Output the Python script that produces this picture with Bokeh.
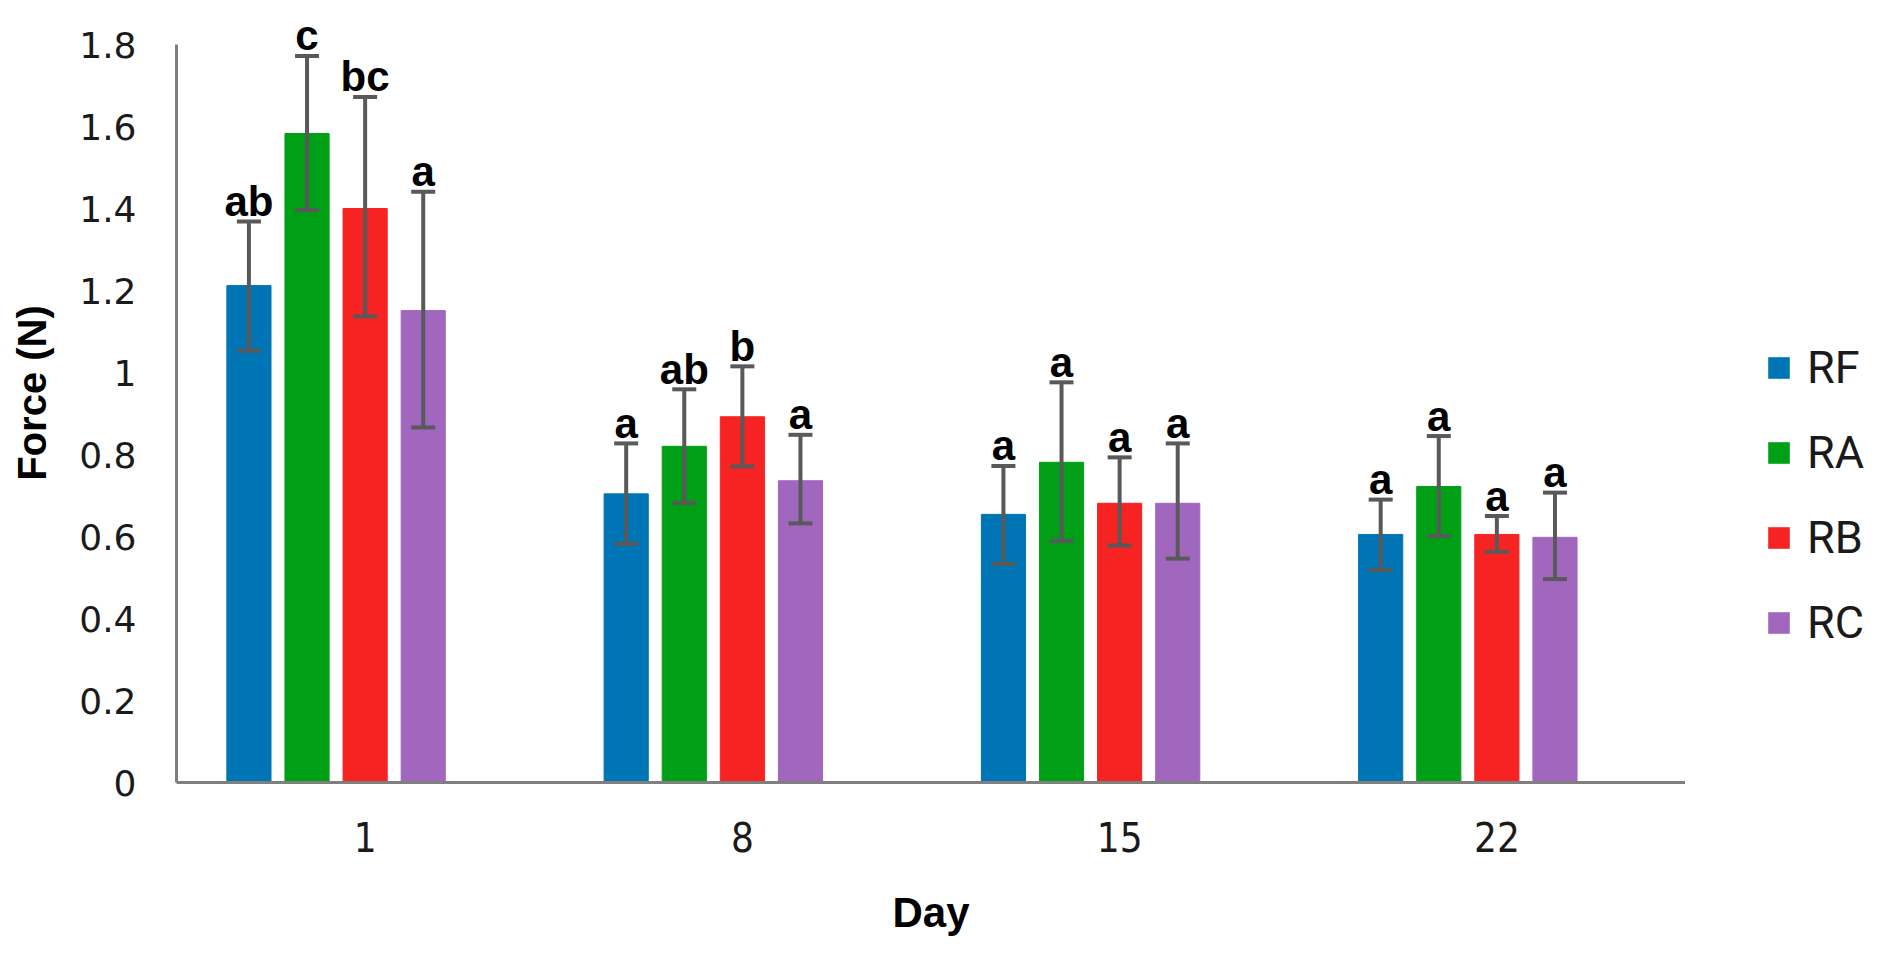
from bokeh.plotting import figure
from bokeh.layouts import row
from bokeh.models import (FactorRange, Range1d, ColumnDataSource, Whisker, TeeHead,
                          Legend, LegendItem, FixedTicker)
from bokeh.transform import dodge
from bokeh.core.properties import value
from bokeh.embed import file_html
from bokeh.resources import INLINE

# ---- data ----
days = ["1", "8", "15", "22"]
series = ["RF", "RA", "RB", "RC"]
colors = ["#0075b5", "#00a016", "#f72222", "#a167bf"]

rf_mean = [1.212, 0.704, 0.654, 0.605]
rf_lower = [1.053, 0.582, 0.533, 0.518]
rf_upper = [1.368, 0.827, 0.772, 0.690]
rf_letters = ["ab", "a", "a", "a"]

ra_mean = [1.583, 0.820, 0.781, 0.722]
ra_lower = [1.396, 0.682, 0.589, 0.601]
ra_upper = [1.772, 0.959, 0.976, 0.845]
ra_letters = ["c", "ab", "a", "a"]

rb_mean = [1.400, 0.892, 0.681, 0.605]
rb_lower = [1.137, 0.771, 0.578, 0.563]
rb_upper = [1.672, 1.015, 0.793, 0.650]
rb_letters = ["bc", "b", "a", "a"]

rc_mean = [1.151, 0.736, 0.681, 0.598]
rc_lower = [0.866, 0.632, 0.546, 0.496]
rc_upper = [1.441, 0.848, 0.827, 0.707]
rc_letters = ["a", "a", "a", "a"]

y_ticks = [0, 0.2, 0.4, 0.6, 0.8, 1, 1.2, 1.4, 1.6, 1.8]
y_tick_labels = ["0", "0.2", "0.4", "0.6", "0.8", "1", "1.2", "1.4", "1.6", "1.8"]

means = [rf_mean, ra_mean, rb_mean, rc_mean]
lowers = [rf_lower, ra_lower, rb_lower, rc_lower]
uppers = [rf_upper, ra_upper, rb_upper, rc_upper]
letters = [rf_letters, ra_letters, rb_letters, rc_letters]

# ---- layout / style ----
offsets = [-0.308, -0.154, 0.0, 0.154]
bar_width = 0.117
axis_color = "#7f7f7f"
err_color = "#595959"

p = figure(width=1685, height=939,
           x_range=FactorRange(*days, range_padding=0),
           y_range=Range1d(0, 1.9),
           output_backend="svg", toolbar_location=None,
           min_border_left=176, min_border_right=0,
           min_border_top=3, min_border_bottom=157)
p.outline_line_color = None
p.xgrid.grid_line_color = None
p.ygrid.grid_line_color = None
p.background_fill_color = "white"

# side figure that only carries the legend (its renderers are hidden)
lg = figure(width=192, height=939,
            x_range=FactorRange(*days, range_padding=0),
            y_range=Range1d(10, 11),
            x_axis_type=None, y_axis_type=None,
            output_backend="svg", toolbar_location=None,
            min_border=0)
lg.outline_line_color = None
lg.xgrid.grid_line_color = None
lg.ygrid.grid_line_color = None

legend_items = []
for i, name in enumerate(series):
    src = ColumnDataSource(dict(day=days, top=means[i], lower=lowers[i],
                                upper=uppers[i], label=letters[i]))
    p.vbar(x=dodge("day", offsets[i], range=p.x_range), top="top",
           width=bar_width, source=src, fill_color=colors[i],
           line_color=colors[i], line_width=1)
    w = Whisker(base=dodge("day", offsets[i], range=p.x_range),
                upper="upper", lower="lower", source=src,
                line_color=err_color, line_width=4, level="annotation",
                upper_head=TeeHead(size=24, line_color=err_color, line_width=4),
                lower_head=TeeHead(size=24, line_color=err_color, line_width=4))
    p.add_layout(w)
    p.text(x=dodge("day", offsets[i], range=p.x_range), y="upper", text="label",
           source=src, text_align="center", text_baseline="alphabetic",
           y_offset=-20, text_font=value("Liberation Sans"),
           text_font_style="bold", text_font_size="42px", text_color="black")
    lr = lg.vbar(x="day", top="top", bottom="top", width=bar_width, source=src,
                 fill_color=colors[i], line_color=None)
    lr.visible = False
    legend_items.append(LegendItem(label=name, renderers=[lr]))

# axes
for ax in (p.xaxis[0], p.yaxis[0]):
    ax.axis_line_color = axis_color
    ax.axis_line_width = 3
    ax.major_tick_line_color = None
    ax.minor_tick_line_color = None
    ax.major_tick_out = 0
    ax.major_tick_in = 0

p.yaxis.ticker = FixedTicker(ticks=y_ticks)
p.yaxis.major_label_overrides = {t: l for t, l in zip(y_ticks, y_tick_labels)}
p.yaxis.bounds = (0, 1.8)
p.yaxis.major_label_text_font = "DejaVu Sans"
p.yaxis.major_label_text_font_size = "36px"
p.yaxis.major_label_text_color = "#1a1a1a"
p.yaxis.major_label_standoff = 40
p.yaxis.axis_label = "Force (N)"
p.yaxis.axis_label_text_font = "Liberation Sans"
p.yaxis.axis_label_text_font_style = "bold"
p.yaxis.axis_label_text_font_size = "40px"
p.yaxis.axis_label_standoff = 22
p.yaxis.axis_label_text_color = "black"

p.xaxis.major_label_text_font = "DejaVu Sans Condensed"
p.xaxis.major_label_text_font_size = "40px"
p.xaxis.major_label_text_color = "#1a1a1a"
p.xaxis.major_label_standoff = 39
p.xaxis.axis_label = "Day"
p.xaxis.axis_label_text_font = "Liberation Sans"
p.xaxis.axis_label_text_font_style = "bold"
p.xaxis.axis_label_text_font_size = "42px"
p.xaxis.axis_label_standoff = 34
p.xaxis.axis_label_text_color = "black"

legend = Legend(items=legend_items, location=(80, 133),
                glyph_width=27, glyph_height=27, label_height=54,
                spacing=31, label_standoff=15, padding=0, margin=0,
                border_line_color=None, background_fill_alpha=0,
                label_text_font="Roboto", label_text_font_size="45px",
                label_text_color="#1a1a1a")
lg.add_layout(legend, "center")

layout = row(p, lg)
open("out.html", "w").write(file_html(layout, INLINE))
